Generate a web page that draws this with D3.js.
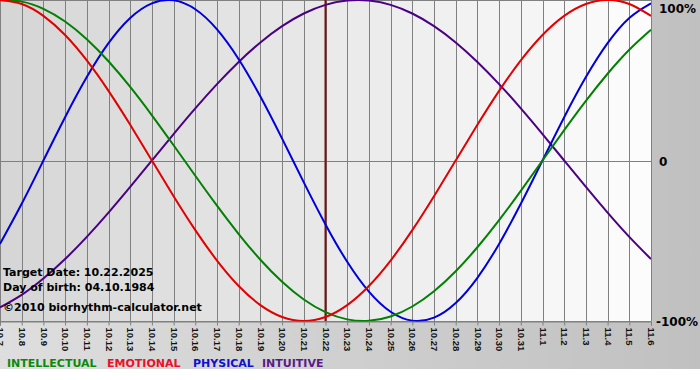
<!DOCTYPE html>
<html>
<head>
<meta charset="utf-8">
<script src="https://cdn.jsdelivr.net/npm/d3@7/dist/d3.min.js"></script>
<style>
html,body{margin:0;padding:0;background:#fff;}
svg{display:block;}
</style>
</head>
<body>
<svg id="chart" width="700" height="380"></svg>
<script>
const dayLabels = ["10.7","10.8","10.9","10.10","10.11","10.12","10.13","10.14","10.15","10.16","10.17","10.18","10.19","10.20","10.21","10.22","10.23","10.24","10.25","10.26","10.27","10.28","10.29","10.30","10.31","11.1","11.2","11.3","11.4","11.5","11.6"];
const physical = [-0.5196,-0.2698,0,0.2698,0.5196,0.7308,0.8879,0.9791,0.9977,0.9423,0.8170,0.6311,0.3984,0.1362,-0.1362,-0.3984,-0.6311,-0.8170,-0.9423,-0.9977,-0.9791,-0.8879,-0.7308,-0.5196,-0.2698,0,0.2698,0.5196,0.7308,0.8879,0.9791];
const emotional = [1,0.9749,0.9010,0.7818,0.6235,0.4339,0.2225,0,-0.2225,-0.4339,-0.6235,-0.7818,-0.9010,-0.9749,-1,-0.9749,-0.9010,-0.7818,-0.6235,-0.4339,-0.2225,0,0.2225,0.4339,0.6235,0.7818,0.9010,0.9749,1,0.9749,0.9010];
const intellectual = [0.9989,0.9898,0.9450,0.8660,0.7557,0.6182,0.4582,0.2817,0.0951,-0.0951,-0.2817,-0.4582,-0.6182,-0.7557,-0.8660,-0.9450,-0.9898,-0.9989,-0.9718,-0.9096,-0.8146,-0.6901,-0.5406,-0.3717,-0.1893,0,0.1893,0.3717,0.5406,0.6901,0.8146];
const intuitive = [-0.9158,-0.8372,-0.7357,-0.6142,-0.4759,-0.3247,-0.1646,0,0.1646,0.3247,0.4759,0.6142,0.7357,0.8372,0.9158,0.9694,0.9966,0.9966,0.9694,0.9158,0.8372,0.7357,0.6142,0.4759,0.3247,0.1646,0,-0.1646,-0.3247,-0.4759,-0.6142];
const targetDay = "10.22";
const yTickLabels = ["100%","0","-100%"];
const yTickValues = [1,0,-1];
const legendNames = ["INTELLECTUAL","EMOTIONAL","PHYSICAL","INTUITIVE"];
const infoLines = ["Target Date: 10.22.2025","Day of birth: 04.10.1984","\u00a92010 biorhythm-calculator.net"];

const svg = d3.select("#chart");
const W = 700, H = 380;
const plotW = 651, plotH = 321;

const x = d3.scaleLinear().domain([0, dayLabels.length - 1]).range([0, plotW]);
const y = d3.scaleLinear().domain([-1, 1]).range([plotH, 0]);

// frame gradient
const defs = svg.append("defs");
const g1 = defs.append("linearGradient").attr("id","frameGrad").attr("x1","0").attr("x2","1").attr("y1","0").attr("y2","0");
g1.append("stop").attr("offset","0").attr("stop-color","#dedede");
g1.append("stop").attr("offset","1").attr("stop-color","#c0c0c0");
svg.append("rect").attr("x",0).attr("y",0).attr("width",W).attr("height",H).attr("fill","#fff");
svg.append("rect").attr("x",0).attr("y",0).attr("width",W).attr("height",369).attr("fill","url(#frameGrad)");

defs.append("clipPath").attr("id","plotClip").append("rect").attr("x",0).attr("y",0).attr("width",plotW+1).attr("height",plotH+1);

const plot = svg.append("g").attr("clip-path","url(#plotClip)");
// column backgrounds
const colShade = d3.interpolateRgb("#d6d6d6","#fcfcfc");
const nCols = dayLabels.length - 1;
plot.selectAll("rect.col").data(d3.range(nCols)).join("rect")
  .attr("class","col")
  .attr("x", i => x(i))
  .attr("y", 0)
  .attr("width", i => x(i+1) - x(i) + 0.5)
  .attr("height", plotH)
  .attr("fill", i => colShade(i / (nCols - 1)));

// vertical grid lines
plot.selectAll("line.vg").data(dayLabels).join("line")
  .attr("class","vg")
  .attr("x1",(d,i)=>Math.round(x(i))+0.5).attr("x2",(d,i)=>Math.round(x(i))+0.5)
  .attr("y1",0).attr("y2",plotH)
  .attr("stroke","#808080").attr("stroke-width",1);

// horizontal lines
plot.selectAll("line.hg").data(yTickValues).join("line")
  .attr("class","hg")
  .attr("x1",0).attr("x2",plotW)
  .attr("y1",d=>Math.round(y(d))+0.5).attr("y2",d=>Math.round(y(d))+0.5)
  .attr("stroke","#808080").attr("stroke-width",1);

// target line
const ti = dayLabels.indexOf(targetDay);
plot.append("line")
  .attr("x1",x(ti)).attr("x2",x(ti)).attr("y1",0).attr("y2",plotH)
  .attr("stroke","#7a1010").attr("stroke-width",2);

// info text (behind curves)
const infoY = [275.5, 291, 311];
svg.append("g").selectAll("text").data(infoLines).join("text")
  .attr("x",3).attr("y",(d,i)=>infoY[i])
  .attr("font-family","DejaVu Sans, Verdana, sans-serif").attr("font-weight","bold").attr("font-size","11px")
  .attr("fill","#000").text(d=>d);

// curves
const line = d3.line().x((d,i)=>x(i)).y(d=>y(d)).curve(d3.curveNatural);
const series = [
  {v: physical, c:"#0000d8"},
  {v: emotional, c:"#e00000"},
  {v: intellectual, c:"#008000"},
  {v: intuitive, c:"#4b0082"}
];
const order = [series[3], series[0], series[2], series[1]];
plot.selectAll("path.s").data(order).join("path")
  .attr("class","s")
  .attr("d", d => line(d.v))
  .attr("fill","none").attr("stroke",d=>d.c).attr("stroke-width",2);

// right border
svg.append("line").attr("x1",plotW+0.5).attr("x2",plotW+0.5).attr("y1",0).attr("y2",plotH)
  .attr("stroke","#808080");

// bottom axis
const xAxis = d3.axisBottom(x).tickValues(d3.range(dayLabels.length)).tickFormat(i=>dayLabels[i]).tickSize(4).tickPadding(2);
const ax = svg.append("g").attr("transform",`translate(0,${plotH+0.5})`).call(xAxis);
ax.select(".domain").attr("stroke","#808080");
ax.selectAll(".tick line").attr("stroke","#808080");
ax.selectAll(".tick text")
  .attr("font-family","Liberation Sans, Arial, sans-serif").attr("font-size","9.5px").attr("font-weight","bold").attr("fill","#111")
  .attr("transform","rotate(90)")
  .attr("text-anchor","start")
  .attr("x",6).attr("y",0).attr("dy","0.35em");

// y labels on right
const yLabX = [659, 659, 656];
const yLabBase = [12.5, 166, 326];
svg.append("g").selectAll("text").data(yTickLabels).join("text")
  .attr("x",(d,i)=>yLabX[i]).attr("y",(d,i)=>yLabBase[i])
  .attr("font-family","DejaVu Sans, Verdana, sans-serif").attr("font-weight","bold").attr("font-size","12px")
  .attr("fill","#000").text(d=>d);

// legend
const legendColors = ["#0a8a0a","#e8102a","#1010d0","#5a1a8a"];
const legendX = [7, 107, 193, 262];
svg.append("g").selectAll("text").data(legendNames).join("text")
  .attr("x",(d,i)=>legendX[i]).attr("y",366.5)
  .attr("font-family","DejaVu Sans, Verdana, sans-serif").attr("font-weight","bold").attr("font-size","11px")
  .attr("fill",(d,i)=>legendColors[i]).text(d=>d);
</script>
</body>
</html>
